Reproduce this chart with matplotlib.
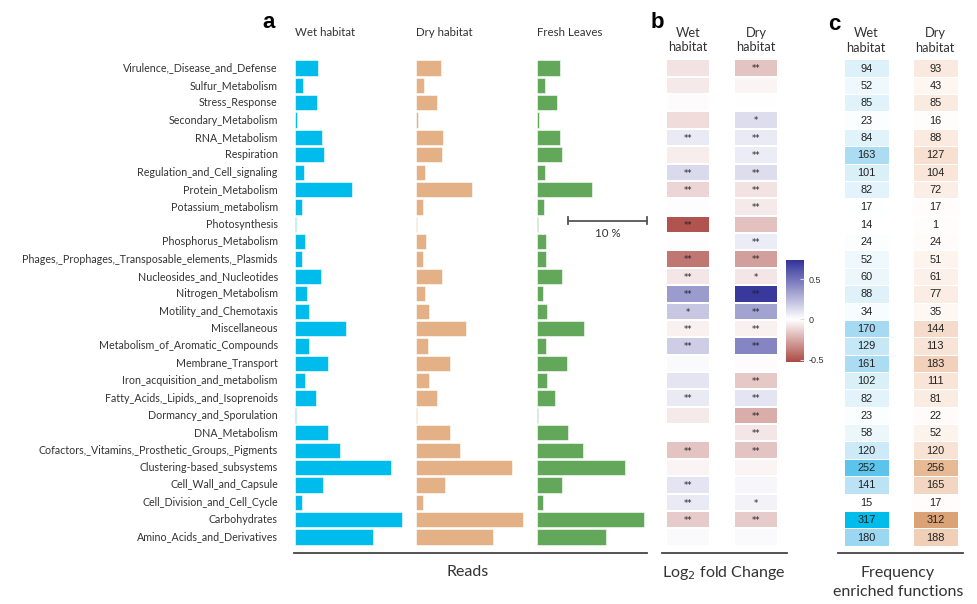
import numpy as np
import matplotlib
matplotlib.use("Agg")
import matplotlib.pyplot as plt
from matplotlib.colors import LinearSegmentedColormap, Normalize
from matplotlib.cm import ScalarMappable

# SEED subsystems, top to bottom
categories = [
    "Virulence,_Disease_and_Defense", "Sulfur_Metabolism", "Stress_Response",
    "Secondary_Metabolism", "RNA_Metabolism", "Respiration",
    "Regulation_and_Cell_signaling", "Protein_Metabolism", "Potassium_metabolism",
    "Photosynthesis", "Phosphorus_Metabolism",
    "Phages,_Prophages,_Transposable_elements,_Plasmids",
    "Nucleosides_and_Nucleotides", "Nitrogen_Metabolism", "Motility_and_Chemotaxis",
    "Miscellaneous", "Metabolism_of_Aromatic_Compounds", "Membrane_Transport",
    "Iron_acquisition_and_metabolism", "Fatty_Acids,_Lipids,_and_Isoprenoids",
    "Dormancy_and_Sporulation", "DNA_Metabolism",
    "Cofactors,_Vitamins,_Prosthetic_Groups,_Pigments", "Clustering-based_subsystems",
    "Cell_Wall_and_Capsule", "Cell_Division_and_Cell_Cycle", "Carbohydrates",
    "Amino_Acids_and_Derivatives",
]

# relative abundance of reads (%)
reads_wet = [3.0, 1.05, 2.75, 0.25, 3.4, 3.7, 1.2, 7.3, 0.9, 0.12, 1.28, 0.94, 3.3, 1.5,
             1.8, 6.5, 1.8, 4.25, 1.28, 2.7, 0.09, 4.2, 5.75, 12.2, 3.6, 0.85, 13.7, 10.0]
reads_dry = [3.2, 1.0, 2.7, 0.2, 3.45, 3.35, 1.2, 7.2, 0.95, 0.09, 1.23, 0.85, 3.3, 1.15,
             1.65, 6.4, 1.5, 4.35, 1.6, 2.7, 0.13, 4.4, 5.65, 12.2, 3.75, 0.85, 13.7, 9.85]
reads_fresh = [3.0, 1.0, 2.5, 0.25, 2.95, 3.2, 1.0, 7.0, 0.85, 0.12, 1.1, 1.1, 3.15, 0.8,
               1.3, 6.05, 1.2, 3.85, 1.3, 2.25, 0.12, 4.0, 5.9, 11.3, 3.2, 0.72, 13.7, 8.85]

# log2 fold change vs fresh leaves (nan = not available)
lfc_wet = [-0.08, -0.06, -0.01, -0.1, 0.08, -0.05, 0.13, -0.12, 0.01, -0.5, 0.01, -0.4,
           -0.07, 0.36, 0.2, -0.04, 0.18, 0.02, 0.1, 0.08, -0.06, np.nan, -0.17, -0.03,
           0.1, 0.08, -0.15, 0.02]
lfc_dry = [-0.17, -0.03, 0.0, 0.12, 0.08, 0.07, 0.12, -0.08, -0.06, -0.18, 0.07, -0.28,
           -0.07, 0.72, 0.33, -0.04, 0.44, -0.01, -0.16, 0.1, -0.24, -0.07, -0.17, -0.03,
           0.03, 0.05, -0.15, 0.02]
sig_wet = ["", "", "", "", "**", "", "**", "**", "", "**", "", "**", "**", "**", "*",
           "**", "**", "", "", "**", "", "", "**", "", "**", "**", "**", ""]
sig_dry = ["**", "", "", "*", "**", "**", "**", "**", "**", "", "**", "**", "*", "**",
           "**", "**", "**", "", "**", "**", "**", "**", "**", "", "", "*", "**", ""]

# number of enriched functions
freq_wet = [94, 52, 85, 23, 84, 163, 101, 82, 17, 14, 24, 52, 60, 88, 34, 170, 129, 161,
            102, 82, 23, 58, 120, 252, 141, 15, 317, 180]
freq_dry = [93, 43, 85, 16, 88, 127, 104, 72, 17, 1, 24, 51, 61, 77, 35, 144, 113, 183,
            111, 81, 22, 52, 120, 256, 165, 17, 312, 188]

W, H = 977, 604
TXT = "#333333"
LABEL_FONT = ["Lato", "DejaVu Sans"]
NUM_FONT = ["Liberation Sans", "DejaVu Sans"]

fig = plt.figure(figsize=(W / 100, H / 100), dpi=100)


def box(x0, y0, x1, y1):
    return [x0 / W, 1 - y1 / H, (x1 - x0) / W, (y1 - y0) / H]


def ftext(x, y, s, **kw):
    fig.text(x / W, 1 - y / H, s, **kw)


n = len(categories)
rows = np.arange(n)
top, bottom = 59.3, 545.7
px_per_pct = 7.83

# ---- a: read abundance bars ----
bar_cols = [(295, reads_wet, "#00bcec", "Wet habitat"),
            (416, reads_dry, "#e4b186", "Dry habitat"),
            (537, reads_fresh, "#63a85a", "Fresh Leaves")]
for i, (x0, vals, col, title) in enumerate(bar_cols):
    ax = fig.add_axes(box(x0, top, x0 + 115, bottom))
    ax.barh(rows, vals, height=0.88, color=col, edgecolor="white", linewidth=0.4)
    ax.set_xlim(0, 115 / px_per_pct)
    ax.set_ylim(n - 0.5, -0.5)
    ax.axis("off")
    ftext(x0, 32, title, fontsize=8.3, color=TXT, family=LABEL_FONT, va="center")
    if i == 0:
        for r, c in zip(rows, categories):
            ax.text(-2.2, r, c, fontsize=7.7, color=TXT, family=LABEL_FONT,
                    ha="right", va="center")
    if i == 2:
        # 10 % scale bar
        ax.plot([4, 14], [8.8, 8.8], color="#555555", lw=1.3, clip_on=False)
        ax.plot([4, 4], [8.6, 9.0], color="#555555", lw=1.3, clip_on=False)
        ax.plot([14, 14], [8.6, 9.0], color="#555555", lw=1.3, clip_on=False)
        ax.text(9, 9.5, "10 %", fontsize=8.3, color=TXT, family=LABEL_FONT,
                ha="center", va="center")

fig.add_artist(plt.Line2D([294 / W, 647 / W], [1 - 553 / H] * 2, color="#444444", lw=1.3))
ftext(468, 572, "Reads", fontsize=11.5, color=TXT, family=LABEL_FONT, ha="center", va="center")
ftext(269, 22, "a", fontsize=16, fontweight="bold", family=NUM_FONT, ha="center", va="center")

# ---- b: log2 fold change heatmap ----
vmin, vmax = -0.53, 0.74
wpt = -vmin / (vmax - vmin)
lfc_cmap = LinearSegmentedColormap.from_list(
    "lfc", [(0, "#ac4a44"), (wpt, "#ffffff"), (1, "#32329a")])
lfc_norm = Normalize(vmin, vmax)

axb = fig.add_axes(box(666, top, 778, bottom))
edges_y = np.arange(n + 1) - 0.5
for x_left, vals, sig in [(0, lfc_wet, sig_wet), (1.57, lfc_dry, sig_dry)]:
    data = np.ma.masked_invalid(np.array(vals, dtype=float)).reshape(-1, 1)
    axb.pcolormesh([x_left, x_left + 1], edges_y, data, cmap=lfc_cmap, norm=lfc_norm,
                   edgecolor="white", linewidth=0.3)
    for r, s in zip(rows, sig):
        if s:
            axb.text(x_left + 0.5, r + 0.05, s, fontsize=6, color="#222222",
                     ha="center", va="center")
axb.set_xlim(0, 2.57)
axb.set_ylim(n - 0.5, -0.5)
axb.axis("off")

for xc, lab in [(688, "Wet"), (756, "Dry")]:
    ftext(xc, 33, lab, fontsize=9.3, color=TXT, family=LABEL_FONT, ha="center", va="center")
    ftext(xc, 47, "habitat", fontsize=9.3, color=TXT, family=LABEL_FONT, ha="center", va="center")
ftext(657, 22, "b", fontsize=16, fontweight="bold", family=NUM_FONT, ha="center", va="center")

cax = fig.add_axes(box(786, 260, 804, 362))
cb = fig.colorbar(ScalarMappable(norm=lfc_norm, cmap=lfc_cmap), cax=cax, ticks=[0.5, 0, -0.5])
cb.outline.set_visible(False)
cb.ax.set_yticklabels(["0.5", "0", "-0.5"], fontsize=6.5, color=TXT, family=NUM_FONT)
cb.ax.tick_params(length=3, width=0.8, color="#dddddd", direction="in", pad=3)

fig.add_artist(plt.Line2D([662 / W, 787 / W], [1 - 553 / H] * 2, color="#444444", lw=1.3))
ftext(724, 573, r"Log$_2$ fold Change", fontsize=11.5, color=TXT, family=LABEL_FONT,
      ha="center", va="center")

# ---- c: frequency of enriched functions ----
axc = fig.add_axes(box(844, top, 958, bottom))
blue_cmap = LinearSegmentedColormap.from_list(
    "wetc", [(0, "#ffffff"), (0.3, "#d8eff9"), (0.5, "#a9dbf2"),
             (0.79, "#5cc4ec"), (1, "#00bcea")])
orange_cmap = LinearSegmentedColormap.from_list(
    "dryc", [(0, "#fffdfc"), (0.3, "#f9e6d9"), (0.5, "#f3d6c1"),
             (0.8, "#e7b995"), (1, "#d9a072")])
freq_norm = Normalize(14, 317)
for x_left, vals, cmap in [(0, freq_wet, blue_cmap), (1.52, freq_dry, orange_cmap)]:
    data = np.array(vals, dtype=float).reshape(-1, 1)
    axc.pcolormesh([x_left, x_left + 1], edges_y, data, cmap=cmap, norm=freq_norm,
                   edgecolor="white", linewidth=0.4)
    for r, v in zip(rows, vals):
        axc.text(x_left + 0.5, r + 0.03, str(v), fontsize=7.9, color="#222222",
                 family=NUM_FONT, ha="center", va="center")
axc.set_xlim(0, 2.52)
axc.set_ylim(n - 0.5, -0.5)
axc.axis("off")

for xc, lab in [(866, "Wet"), (935, "Dry")]:
    ftext(xc, 33, lab, fontsize=9.3, color=TXT, family=LABEL_FONT, ha="center", va="center")
    ftext(xc, 47.5, "habitat", fontsize=9.3, color=TXT, family=LABEL_FONT, ha="center", va="center")
ftext(834, 24, "c", fontsize=16, fontweight="bold", family=NUM_FONT, ha="center", va="center")

fig.add_artist(plt.Line2D([838 / W, 963 / W], [1 - 553 / H] * 2, color="#444444", lw=1.3))
ftext(898, 573, "Frequency", fontsize=11.5, color=TXT, family=LABEL_FONT,
      ha="center", va="center")
ftext(898, 592, "enriched functions", fontsize=11.5, color=TXT, family=LABEL_FONT,
      ha="center", va="center")

fig.savefig("out.png", dpi=100)
